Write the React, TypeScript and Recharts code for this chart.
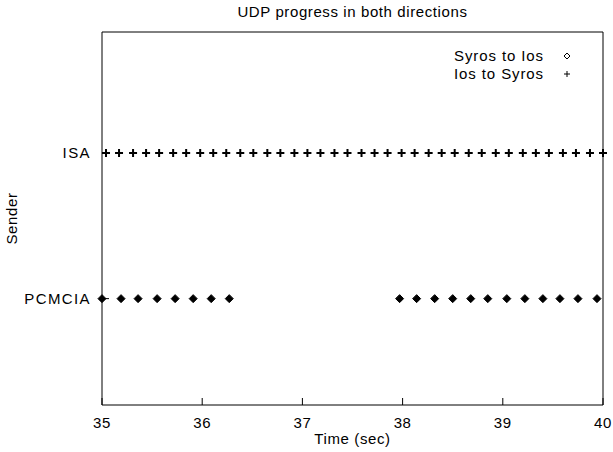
import React from "react";
import {
  Legend,
  Scatter,
  ScatterChart,
  XAxis,
  YAxis,
} from "recharts";

const senders = ["PCMCIA", "ISA"];
const seriesNames = ["Syros to Ios", "Ios to Syros"];
const timeTicks = [35, 36, 37, 38, 39, 40];

// Syros to Ios, sent from the PCMCIA card
const syrosToIos = [
  35.0, 35.19, 35.36, 35.55, 35.73, 35.91, 36.09, 36.27,
  37.97, 38.14, 38.32, 38.5, 38.68, 38.85, 39.04, 39.22, 39.4, 39.57, 39.75, 39.94,
];

// Ios to Syros, sent from the ISA card
const iosToSyros = [
  35.04, 35.17, 35.31, 35.44, 35.57, 35.71, 35.84, 35.98, 36.11, 36.24,
  36.38, 36.51, 36.65, 36.78, 36.92, 37.05, 37.18, 37.32, 37.45, 37.59,
  37.72, 37.85, 37.99, 38.12, 38.26, 38.39, 38.52, 38.66, 38.79, 38.93,
  39.06, 39.2, 39.33, 39.46, 39.6, 39.73, 39.87, 40.0,
];

const FONT = "'Liberation Sans', Arial, Helvetica, sans-serif";
const FS = 15;
const LS = 0.6;

const rowOf = (name: string) => senders.indexOf(name) + 1;

const syrosData = syrosToIos.map((t) => ({ time: t, sender: rowOf("PCMCIA") }));
const iosData = iosToSyros.map((t) => ({ time: t, sender: rowOf("ISA") }));

function Diamond({ cx, cy, size = 4, hollow = false }: any) {
  const pts = `${cx},${cy - size} ${cx + size},${cy} ${cx},${cy + size} ${cx - size},${cy}`;
  return (
    <polygon
      points={pts}
      fill={hollow ? "#fff" : "#000"}
      stroke="#000"
      strokeWidth={1}
    />
  );
}

function Plus({ cx, cy, size = 4, width = 2 }: any) {
  return (
    <path
      d={`M${cx - size},${cy}H${cx + size}M${cx},${cy - size}V${cy + size}`}
      stroke="#000"
      strokeWidth={width}
      fill="none"
    />
  );
}

function BottomTick({ x, y, payload }: any) {
  return (
    <text
      x={x}
      y={y + 23}
      textAnchor="middle"
      fontSize={FS}
      letterSpacing={LS}
      fontFamily={FONT}
      fill="#000"
    >
      {payload.value}
    </text>
  );
}

function LeftTick({ x, y, payload }: any) {
  return (
    <text
      x={x}
      y={y + 5}
      textAnchor="end"
      fontSize={FS}
      letterSpacing={1.4}
      fontFamily={FONT}
      fill="#000"
    >
      {senders[payload.value - 1]}
    </text>
  );
}

const NoTick = () => <g />;

function LegendBox({ payload }: any) {
  const items = [...(payload || [])].sort(
    (a: any, b: any) => seriesNames.indexOf(a.value) - seriesNames.indexOf(b.value)
  );
  return (
    <svg width={230} height={40} style={{ display: "block" }}>
      {items.map((entry: any, i: number) => (
        <g key={entry.value}>
          <text
            x={164}
            y={15 + i * 18}
            textAnchor="end"
            fontSize={FS}
            letterSpacing={0.9}
            fontFamily={FONT}
            fill="#000"
          >
            {entry.value}
          </text>
          {entry.value === seriesNames[0] ? (
            <Diamond cx={187} cy={10 + i * 18} size={3} hollow />
          ) : (
            <Plus cx={187} cy={10 + i * 18} size={3} width={1} />
          )}
        </g>
      ))}
    </svg>
  );
}

export default function App() {
  return (
    <div style={{ position: "absolute", left: 0, top: 0, width: 613, height: 452, background: "#fff" }}>
      <div
        style={{
          position: "absolute",
          left: 102,
          top: 3,
          width: 501,
          textAlign: "center",
          fontFamily: FONT,
          fontSize: FS,
          letterSpacing: LS,
          color: "#000",
        }}
      >
        UDP progress in both directions
      </div>
      <ScatterChart
        width={613}
        height={452}
        margin={{ top: 31, right: 9, bottom: 0, left: 0 }}
      >
        <XAxis
          xAxisId="bottom"
          dataKey="time"
          type="number"
          domain={[35, 40]}
          ticks={timeTicks}
          height={47}
          tickSize={-7}
          tickMargin={7}
          tickLine={{ stroke: "#000" }}
          axisLine={{ stroke: "#000" }}
          tick={<BottomTick />}
          label={{
            value: "Time (sec)",
            position: "insideBottom",
            offset: 8,
            style: { fontSize: FS, letterSpacing: LS, fontFamily: FONT, fill: "#000" },
          }}
        />
        <XAxis
          xAxisId="top"
          orientation="top"
          dataKey="time"
          type="number"
          domain={[35, 40]}
          ticks={timeTicks}
          height={1}
          tickSize={-7}
          tickLine={{ stroke: "#000" }}
          axisLine={{ stroke: "#000" }}
          tick={<NoTick />}
        />
        <YAxis
          yAxisId="left"
          dataKey="sender"
          type="number"
          domain={[0.27, 2.83]}
          ticks={[1, 2]}
          width={102}
          tickSize={-7}
          tickMargin={18}
          tickLine={{ stroke: "#000" }}
          axisLine={{ stroke: "#000" }}
          tick={<LeftTick />}
          label={{
            value: "Sender",
            angle: -90,
            position: "insideLeft",
            offset: 12,
            style: { fontSize: FS, letterSpacing: LS, fontFamily: FONT, fill: "#000", textAnchor: "middle" },
          }}
        />
        <YAxis
          yAxisId="right"
          orientation="right"
          dataKey="sender"
          type="number"
          domain={[0.27, 2.83]}
          ticks={[1, 2]}
          width={1}
          tickSize={-7}
          tickLine={{ stroke: "#000" }}
          axisLine={{ stroke: "#000" }}
          tick={<NoTick />}
        />
        <Legend
          layout="vertical"
          align="center"
          verticalAlign="middle"
          content={<LegendBox />}
          wrapperStyle={{ left: 380, top: 46, width: 230, height: 40 }}
        />
        <Scatter
          name={seriesNames[0]}
          data={syrosData}
          xAxisId="bottom"
          yAxisId="left"
          shape={(p: any) => <Diamond cx={p.cx} cy={p.cy} size={4} />}
          isAnimationActive={false}
        />
        <Scatter
          name={seriesNames[1]}
          data={iosData}
          xAxisId="bottom"
          yAxisId="left"
          shape={(p: any) => <Plus cx={p.cx} cy={p.cy} size={4} width={2} />}
          isAnimationActive={false}
        />
      </ScatterChart>
    </div>
  );
}
